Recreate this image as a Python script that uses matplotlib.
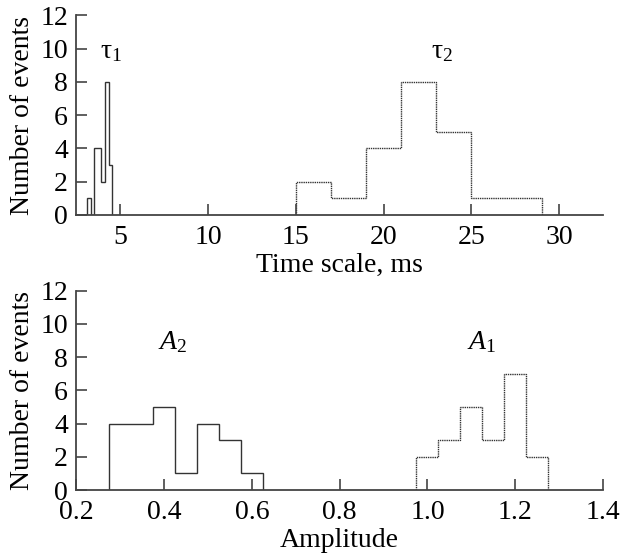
import numpy as np
import matplotlib
matplotlib.use('Agg')
import matplotlib.pyplot as plt

plt.rcParams['font.family'] = ['Liberation Serif', 'DejaVu Serif']
plt.rcParams['mathtext.fontset'] = 'custom'
plt.rcParams['mathtext.rm'] = 'Liberation Serif'
plt.rcParams['mathtext.it'] = 'Liberation Serif:italic'

# time scale histograms (ms)
tau1_edges = [3.10, 3.33, 3.48, 3.90, 4.13, 4.36, 4.51]
tau1_counts = [1, 0, 4, 2, 8, 3]
tau2_edges = [15, 17, 19, 21, 23, 25, 27, 29]
tau2_counts = [2, 1, 4, 8, 5, 1, 1]

# amplitude histograms
a2_edges = [0.275, 0.325, 0.375, 0.425, 0.475, 0.525, 0.575, 0.625]
a2_counts = [4, 4, 5, 1, 4, 3, 1]
a1_edges = [0.975, 1.025, 1.075, 1.125, 1.175, 1.225, 1.275]
a1_counts = [2, 3, 5, 3, 7, 2]

yticks = [0, 2, 4, 6, 8, 10, 12]
tau_ticks = [5, 10, 15, 20, 25, 30]
amp_ticks = [0.2, 0.4, 0.6, 0.8, 1.0, 1.2, 1.4]

fig = plt.figure(figsize=(6.21, 5.59), dpi=100)
ax1 = fig.add_axes([0.123, 0.6154, 0.848, 0.357])
ax2 = fig.add_axes([0.123, 0.1234, 0.848, 0.3565])

lc = '#333333'
ax1.stairs(tau1_counts, tau1_edges, color=lc, lw=1.0)
ax1.stairs(tau2_counts, tau2_edges, color=lc, lw=1.0, linestyle=(0, (1, 0.6)))
ax2.stairs(a2_counts, a2_edges, color=lc, lw=1.0)
ax2.stairs(a1_counts, a1_edges, color=lc, lw=1.0, linestyle=(0, (1, 0.6)))

ax1.text(3.86, 9.8, r'$\mathrm{\tau}_1$', fontsize=20, va='center')
ax1.text(22.7, 9.8, r'$\mathrm{\tau}_2$', fontsize=20, va='center')
ax2.text(0.385, 8.9, r'$A_2$', fontsize=20, va='center')
ax2.text(1.089, 8.9, r'$A_1$', fontsize=20, va='center')

for ax in (ax1, ax2):
    ax.set_ylim(0, 12)
    ax.set_yticks(yticks)
    for s in ('top', 'right'):
        ax.spines[s].set_visible(False)
    for s in ('left', 'bottom'):
        ax.spines[s].set_color('#444444')
        ax.spines[s].set_linewidth(1.3)
    ax.tick_params(direction='in', length=8, width=1.2, color='#444444',
                   labelsize=20, pad=6)
    ax.tick_params(axis='x', pad=7.5)
    ax.set_ylabel('Number of events', fontsize=20, labelpad=4)

ax1.set_xlim(2.5, 32.5)
ax1.set_xticks(tau_ticks)
ax1.set_xlabel('Time scale, ms', fontsize=20, labelpad=2)

ax2.set_xlim(0.2, 1.4)
ax2.set_xticks(amp_ticks)
ax2.set_xticklabels(['%.1f' % v for v in amp_ticks])
ax2.set_xlabel('Amplitude', fontsize=20, labelpad=2)

fig.savefig('out.png', dpi=100)
